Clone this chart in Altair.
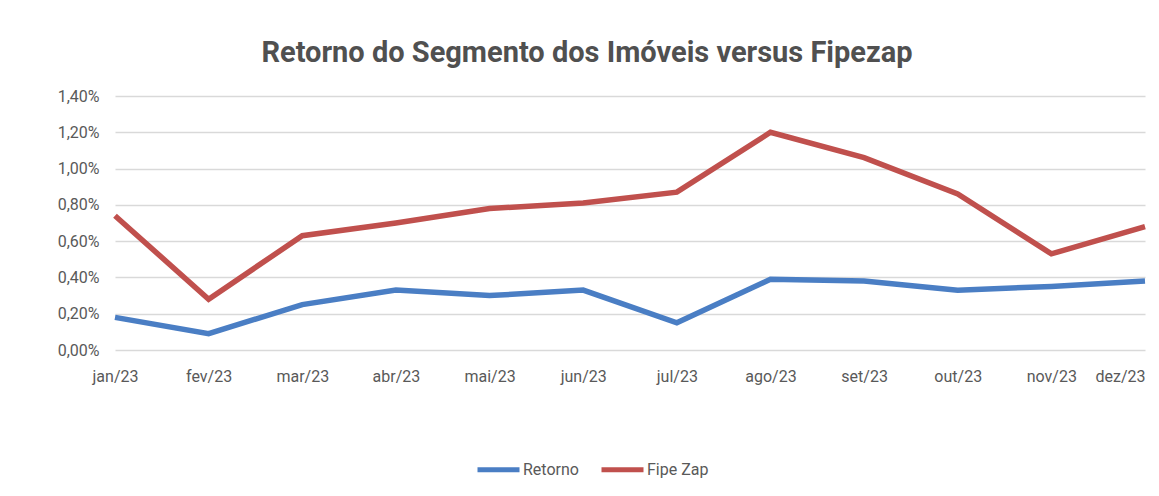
import altair as alt
import pandas as pd

months = ["jan/23", "fev/23", "mar/23", "abr/23", "mai/23", "jun/23",
          "jul/23", "ago/23", "set/23", "out/23", "nov/23", "dez/23"]
retorno = [0.18, 0.09, 0.25, 0.33, 0.30, 0.33, 0.15, 0.39, 0.38, 0.33, 0.35, 0.38]
fipezap = [0.74, 0.28, 0.63, 0.70, 0.78, 0.81, 0.87, 1.20, 1.06, 0.86, 0.53, 0.68]
series = ["Retorno", "Fipe Zap"]
colors = ["#4A7EC4", "#C0504D"]

rows = []
for name, vals in zip(series, [retorno, fipezap]):
    for m, v in zip(months, vals):
        rows.append({"mes": m, "serie": name, "valor": v})
df = pd.DataFrame(rows)

FONT = "Roboto"
GREY = "#595959"

chart = alt.Chart(df).mark_line(strokeWidth=5.5, strokeCap="butt", strokeJoin="miter").encode(
    x=alt.X("mes:N", sort=months, title=None,
            scale=alt.Scale(type="point", padding=0),
            axis=alt.Axis(labelAngle=0, labelFontSize=16, labelColor=GREY, labelFont=FONT,
                          labelAlign={"condition": {"test": "datum.value == 'dez/23'", "value": "right"},
                                      "value": "center"},
                          labelPadding=18, ticks=False, domain=False, grid=False)),
    y=alt.Y("valor:Q", title=None,
            scale=alt.Scale(domain=[0, 1.4], nice=False),
            axis=alt.Axis(values=[0, 0.2, 0.4, 0.6, 0.8, 1.0, 1.2, 1.4],
                          labelExpr="replace(format(datum.value, '.2f'), '.', ',') + '%'",
                          labelFontSize=16, labelColor=GREY, labelFont=FONT,
                          labelPadding=16, ticks=False, domain=False,
                          gridColor="#D9D9D9", gridWidth=1.5)),
    color=alt.Color("serie:N", sort=series,
                    scale=alt.Scale(domain=series, range=colors),
                    legend=alt.Legend(title=None, orient="none", direction="horizontal",
                                      legendX=360, legendY=350,
                                      symbolType="stroke", symbolSize=1764,
                                      symbolStrokeWidth=5, labelFontSize=16,
                                      labelColor=GREY, labelFont=FONT,
                                      labelOffset=1, columnPadding=12)),
).properties(
    width=1030, height=254,
    padding={"left": 107, "top": 88, "right": 6, "bottom": 130},
    autosize="none",
    title=alt.TitleParams("Retorno do Segmento dos Imóveis versus Fipezap",
                          fontSize=29, font=FONT, fontWeight="bold", color="#505050",
                          anchor="middle", dx=-43, offset=20),
).configure_view(stroke=None)

chart.save("out.html", embed_options={"renderer": "svg", "actions": False})
